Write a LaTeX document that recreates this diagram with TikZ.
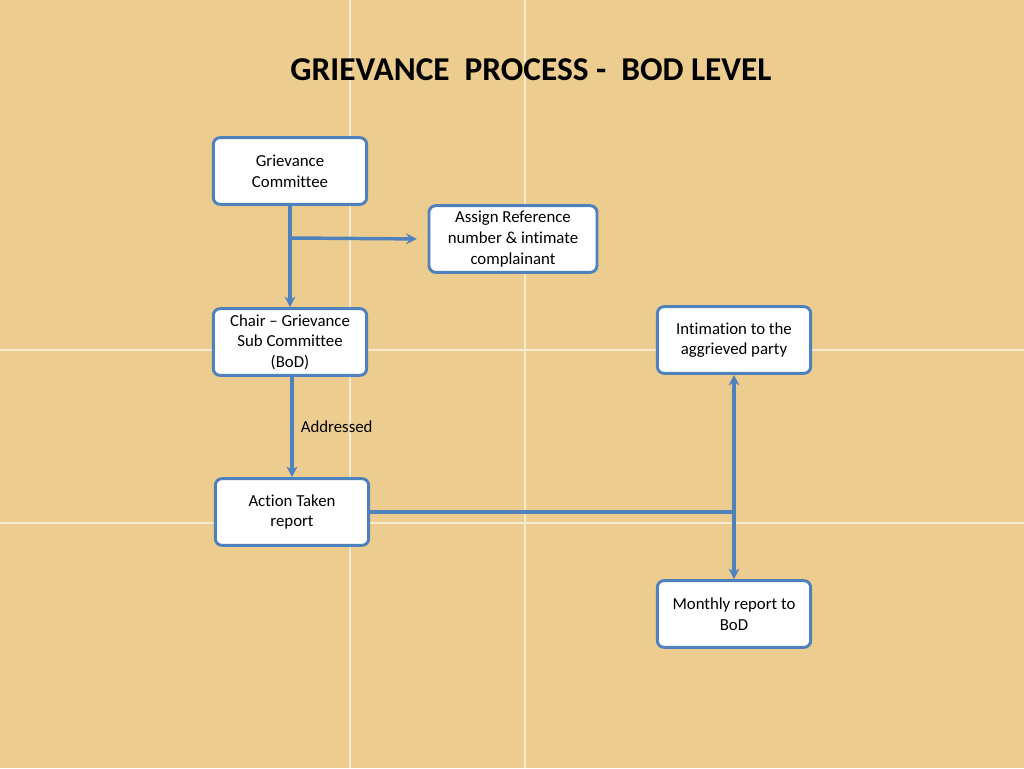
\documentclass[tikz,border=0pt]{standalone}
\usepackage{fontspec}
\setmainfont{Carlito}[Ligatures=NoCommon]
\usetikzlibrary{arrows.meta}
\definecolor{bg}{HTML}{ECCD8F}
\definecolor{bl}{HTML}{4F81BD}
\tikzset{box/.style={draw=bl,line width=2.2pt,fill=white,rounded corners=5pt,minimum width=115pt,minimum height=50pt,align=center,font=\fontsize{12.6}{15.5}\selectfont},
conn/.style={draw=bl,line width=2.6pt,-{Stealth[length=8pt,width=8pt]}}}
\begin{document}
\begin{tikzpicture}[x=0.75pt,y=-0.75pt]
\fill[bg] (0,0) rectangle (1024,768);
\useasboundingbox (0,0) rectangle (1024,768);
\draw[white,line width=1pt,opacity=0.6] (350,0)--(350,768) (525,0)--(525,768) (0,350)--(1024,350) (0,523)--(1024,523);
\node[font=\bfseries\fontsize{25}{28}\selectfont] (t) at (531,70) {GRIEVANCE\ \ PROCESS -\ \ BOD LEVEL};
\node[box] (gc) at (290,171) {Grievance\\Committee};
\node[box,minimum width=126pt] (ar) at (513,239) {Assign Reference\\number \& intimate\\complainant};
\node[box] (ch) at (290,342) {Chair -- Grievance\\Sub Committee\\(BoD)};
\node[box] (at) at (292,512) {Action Taken\\report};
\node[box] (in) at (734,340) {Intimation to the\\aggrieved party};
\node[box] (mr) at (734,614) {Monthly report to\\BoD};
\coordinate (br) at (290,238);
\coordinate (j) at (734,512);
\draw[conn] (gc) -- (ch);
\draw[conn,shorten >=8pt] (br) -- (ar.west);
\draw[conn] (292,377) -- node[right,font=\fontsize{12.6}{14}\selectfont,xshift=2pt]{Addressed} (at.north);
\draw[draw=bl,line width=2.6pt] (at.east) -- (j);
\draw[conn] (j) -- (in);
\draw[conn] (j) -- (mr);
\end{tikzpicture}
\end{document}
